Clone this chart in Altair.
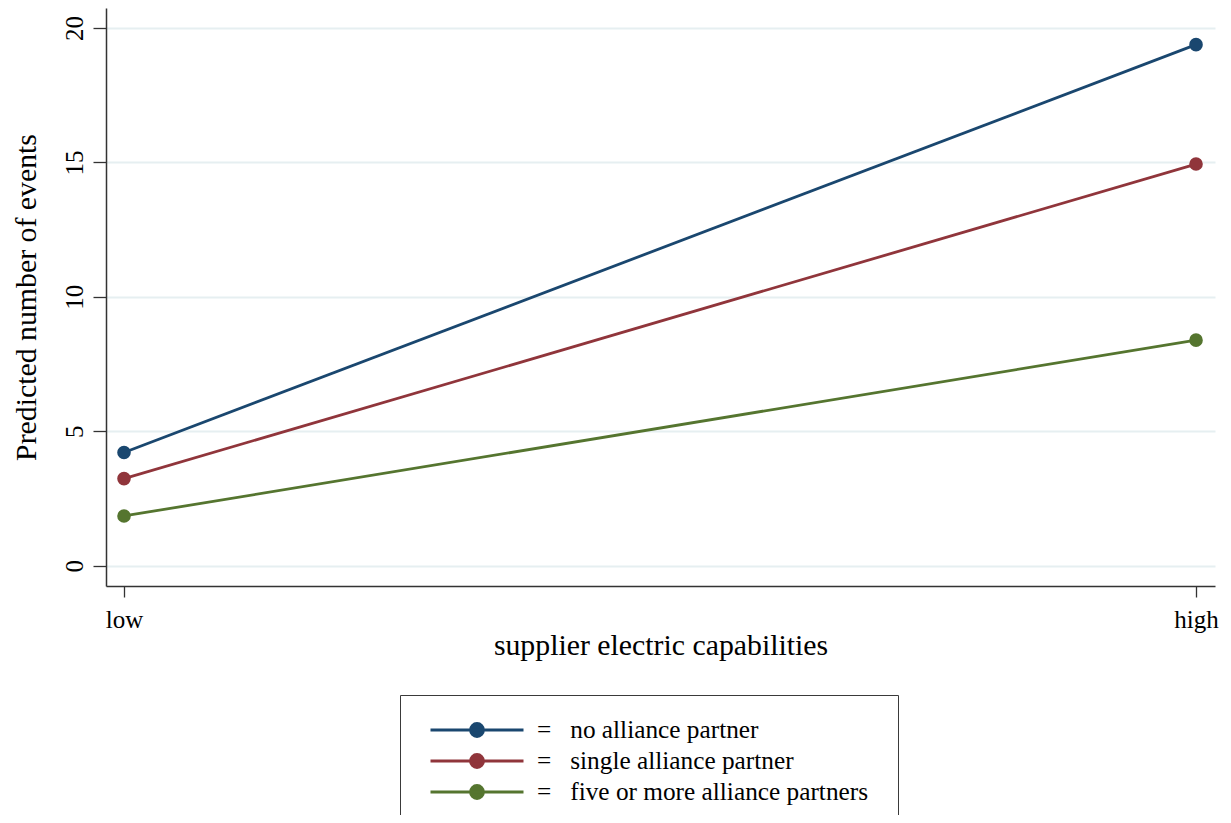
import altair as alt
import pandas as pd

# ---- data ----
groups = ["no alliance partner", "single alliance partner", "five or more alliance partners"]
x_levels = [0, 1]            # 0 = low, 1 = high supplier electric capabilities
x_labels = ["low", "high"]
no_partner = [4.21, 19.38]
single_partner = [3.24, 14.94]
five_plus = [1.85, 8.39]
colors = ["#1a476f", "#90353b", "#55752f"]
y_ticks = [0, 5, 10, 15, 20]

rows = []
for g, vals in zip(groups, [no_partner, single_partner, five_plus]):
    for xv, v in zip(x_levels, vals):
        rows.append({"group": g, "cap": xv, "events": v})
df = pd.DataFrame(rows)

FONT = "Liberation Serif"

legend_path = ("M-1,0H1M-0.14,0A0.14,0.14,0,1,1,0.14,0"
               "A0.14,0.14,0,1,1,-0.14,0Z")

label_js = "datum.value == 0 ? '" + x_labels[0] + "' : '" + x_labels[1] + "'"

color_enc = alt.Color(
    "group:N",
    scale=alt.Scale(domain=groups, range=colors),
    sort=groups,
    legend=alt.Legend(
        title="\u2800",
        titleOrient="right",
        titleFontSize=1,
        titlePadding=7.5,
        orient="none",
        legendX=294,
        legendY=687,
        direction="vertical",
        symbolType=legend_path,
        symbolSize=8649,
        symbolStrokeWidth=2.8,
        symbolOffset=8,
        clipHeight=28,
        rowPadding=3,
        padding=21,
        labelOffset=12,
        labelFont=FONT,
        labelFontSize=25.3,
        labelColor="#000000",
        labelLimit=600,
        labelExpr="'=\u00a0\u00a0\u00a0' + datum.label",
        strokeColor="#3a3a3a",
        fillColor="#ffffff",
    ),
)

x_enc = alt.X(
    "cap:Q",
    scale=alt.Scale(domain=[-0.0168, 1.0177], nice=False, zero=False),
    axis=alt.Axis(
        values=x_levels,
        labelExpr=label_js,
        title="supplier electric capabilities",
        grid=False,
        tickSize=11,
        tickColor="#333333",
        tickWidth=1.3,
        domainColor="#333333",
        domainWidth=1.5,
        labelFont=FONT,
        labelFontSize=25,
        labelColor="#000000",
        labelPadding=10,
        titleFont=FONT,
        titleFontSize=29.8,
        titleFontWeight="normal",
        titleColor="#000000",
        titleX=554.5,
        titleY=59,
        titleBaseline="middle",
        titleAlign="center",
    ),
)

y_enc = alt.Y(
    "events:Q",
    scale=alt.Scale(domain=[-0.755, 20.744], nice=False, zero=False),
    axis=alt.Axis(
        values=y_ticks,
        title="Predicted number of events",
        grid=True,
        gridColor="#e6eff1",
        gridWidth=2,
        tickSize=13,
        tickColor="#333333",
        tickWidth=1.3,
        domainColor="#333333",
        domainWidth=1.5,
        labelFont=FONT,
        labelFontSize=25,
        labelColor="#000000",
        labelAngle=270,
        labelAlign="center",
        labelBaseline="bottom",
        labelPadding=6,
        titleFont=FONT,
        titleFontSize=29.8,
        titleFontWeight="normal",
        titleColor="#000000",
        titleAngle=270,
        titleX=-80,
        titleY=289,
        titleBaseline="middle",
        titleAlign="center",
    ),
)

base = alt.Chart(df).encode(x=x_enc, y=y_enc, color=color_enc)

lines = base.mark_line(strokeWidth=2.8)
points = base.mark_point(filled=True, size=185, opacity=1, shape="circle")

chart = (
    alt.layer(lines, points)
    .properties(
        width=1109,
        height=578,
        autosize="none",
        padding={"left": 98, "top": 0, "right": 8, "bottom": 229},
        background="#ffffff",
    )
    .configure_view(stroke=None)
)

chart.save("out.html", embed_options={"renderer": "svg", "actions": False})
